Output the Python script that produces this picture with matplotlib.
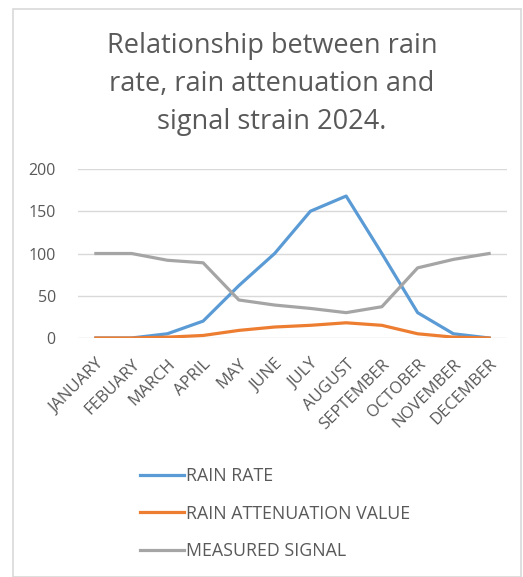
import matplotlib
matplotlib.use("Agg")
import matplotlib.pyplot as plt
from matplotlib.patches import Rectangle

# ── Données ─────────────────────────────────────────────────────────────
months = ["JANUARY", "FEBUARY", "MARCH", "APRIL", "MAY", "JUNE", "JULY",
          "AUGUST", "SEPTEMBER", "OCTOBER", "NOVEMBER", "DECEMBER"]
rain_rate = [0, 0, 5, 20, 62, 100, 150, 168, 100, 30, 5, 0]
rain_attenuation = [0, 0, 1, 3, 9, 13, 15, 18, 15, 5, 1, 0]
measured_signal = [100, 100, 92, 89, 45, 39, 35, 30, 37, 83, 93, 100]
y_ticks = [0, 50, 100, 150, 200]

TXT = "#595959"
plt.rcParams['font.family'] = ['Open Sans', 'DejaVu Sans']

W, H = 523, 577
fig = plt.figure(figsize=(W / 100, H / 100), dpi=100)

# cadre du graphique
fig.patches.append(Rectangle((13 / W, 0), (521 - 13) / W, 1 - 9 / H,
                             transform=fig.transFigure, fill=False,
                             edgecolor="#D9D9D9", linewidth=1.2))

fig.text(272 / W, 1 - 84 / H,
         "Relationship between rain\nrate, rain attenuation and\nsignal strain 2024.",
         ha="center", va="center", fontsize=19.5, color=TXT, linespacing=1.5)

ax = fig.add_axes([78 / W, 1 - 338 / H, 429 / W, 169 / H])
x = range(len(months))
ax.plot(x, rain_rate, color="#5B9BD5", linewidth=2.3, label="RAIN RATE")
ax.plot(x, rain_attenuation, color="#ED7D31", linewidth=2.3, label="RAIN ATTENUATION VALUE")
ax.plot(x, measured_signal, color="#A5A5A5", linewidth=2.3, label="MEASURED SIGNAL")

ax.set_xlim(-0.5, len(months) - 0.5)
ax.set_ylim(0, 200)
ax.set_yticks(y_ticks)
ax.set_xticks(list(x))
ax.set_xticklabels(months, rotation=45, ha="right", rotation_mode="anchor",
                   fontsize=12, color=TXT)
ax.tick_params(axis="y", labelsize=11.5, colors=TXT, length=0, pad=16)
ax.tick_params(axis="x", length=0, pad=13)
ax.grid(axis="y", color="#D9D9D9", linewidth=1)
ax.set_axisbelow(True)
for s in ax.spines.values():
    s.set_visible(False)

fig.legend(loc="upper left", bbox_to_anchor=(124 / W, 1 - 451 / H),
           frameon=False, handlelength=2.5, handletextpad=0.1,
           labelspacing=1.1, fontsize=12.8, labelcolor=TXT)

fig.savefig("out.png", dpi=100)
